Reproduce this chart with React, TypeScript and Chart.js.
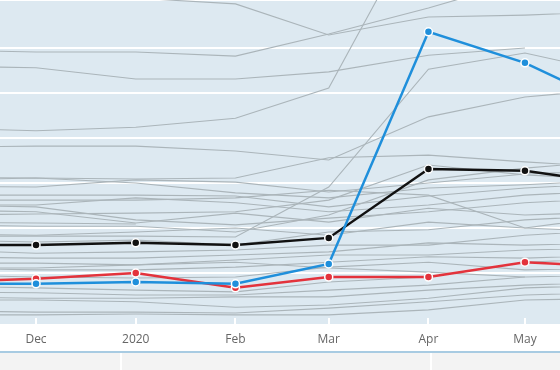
import React, { useEffect, useRef } from "react";
import { Chart, registerables } from "chart.js";

Chart.register(...registerables);

// x positions: days since 1 Dec 2019 (month starts)
const pointDays = [-30, 0, 31, 62, 91, 122, 152, 183];
const tickDays = [0, 31, 62, 91, 122, 152];
const tickLabels = ["Dec", "2020", "Feb", "Mar", "Apr", "May"];

// highlighted series
const blackSeries = [16.2, 16.2, 16.7, 16.2, 17.8, 33.1, 32.7, 29.6];
const redSeries = [8.0, 8.7, 10.0, 6.7, 9.1, 9.1, 12.4, 11.3];
const blueSeries = [7.6, 7.6, 8.0, 7.6, 12.0, 63.6, 56.7, 46.2];

// background (grey) series
const g1 = [72.4, 71.8, 71.1, 69.8, 62.9, 66.9, 67.3, 68.2];
const g2 = [59.6, 59.1, 59.1, 58.2, 63.1, 68.9, 75.1, 79.6];
const g3 = [56.0, 55.6, 53.1, 53.1, 54.7, 58.4, 60.0, null];
const g4 = [42.2, 41.6, 42.4, 44.4, 51.1, 91.8, 104, 104];
const g5 = [38.0, 38.2, 38.2, 37.1, 35.1, 44.7, 49.1, 51.1];
const g6 = [18.2, 18.2, 18.2, 18.0, 29.1, 55.3, 58.9, 54.0];
const g7 = [31.3, 31.1, 30.9, 31.1, 35.6, 36.2, 34.7, 33.3];
const l1 = [29.3, 29.1, 30.7, 30.2, 28.0, 30.0, 32.0, 32.9];
const l2 = [30.7, 31.1, 30.0, 27.8, 26.7, 28.9, 29.6, 30.7];
const l3 = [27.3, 27.3, 27.3, 27.1, 24.7, 27.1, 28.9, 30.0];
const l4 = [25.1, 25.1, 26.7, 25.6, 23.6, 25.1, 27.3, 28.4];
const l5 = [25.1, 24.7, 21.8, 20.7, 22.2, 23.6, 25.6, 26.7];
const l6 = [24.0, 23.6, 21.1, 23.3, 21.3, 24.4, 22.9, 23.6];
const l7 = [21.3, 21.1, 20.9, null, null, null, null, null];
const l8 = [18.7, 18.4, 19.1, 20.0, 18.4, 21.3, 20.0, 19.1];
const l9 = [17.3, 16.9, 17.3, 16.2, 19.1, 19.6, 21.8, 22.9];
const l10 = [15.1, 14.4, 14.7, 15.1, 16.2, 16.2, 18.4, 19.6];
const l11 = [13.6, 13.3, 13.3, 14.0, 14.7, 16.7, 16.2, 16.7];
const l12 = [12.2, 12.2, 11.8, 12.9, 14.0, 14.0, 15.1, 15.6];
const l13 = [11.1, 10.7, 10.7, 11.3, 12.4, 13.6, 13.3, 14.0];
const l14 = [9.6, 9.1, 8.9, 9.1, 11.3, 12.4, 10.7, 11.1];
const l15 = [7.1, 6.7, 6.2, 5.8, 8.0, 9.1, 12.4, 13.3];
const l16 = [5.8, 5.6, 5.1, 5.1, 6.2, 7.3, 9.1, 9.6];
const l17 = [4.7, 4.4, 4.4, 4.7, 4.7, 6.2, 7.3, 8.0];
const l18 = [4.0, 4.0, 3.6, 2.4, 2.9, 4.4, 6.7, 7.3];
const l19 = [1.6, 1.3, 1.3, 1.1, 2.2, 3.6, 5.1, 5.8];
const l20 = [0.7, 0.7, 0.9, 0.7, 0.7, 1.8, 4.0, 4.4];
const l21 = [11.1, 11.1, 11.8, 12.4, 11.1, 10.2, 9.1, null];
const l22 = [22.9, 23.1, 23.3, 23.6, 26.2, 34.0, 31.8, 30.7];
const l23 = [26.2, 26.2, 26.2, 26.7, 28.4, 27.3, 20.0, 22.9];
const l24 = [20.7, 20.4, 20.4, 19.1, 22.9, 30.7, 33.3, 35.1];

const greySeries = [
  g1, g2, g3, g4, g5, g6, g7,
  l1, l2, l3, l4, l5, l6, l7, l8, l9, l10, l11, l12,
  l13, l14, l15, l16, l17, l18, l19, l20, l21, l22, l23, l24,
];

const BG = "#dde9f1";
const GREY = "#abb5ba";
const BLACK = "#111111";
const RED = "#e3333c";
const BLUE = "#1f8fdb";

const toPoints = (vals: (number | null)[]) =>
  pointDays.map((d, i) => ({ x: d, y: vals[i] }));

const bgPlugin = {
  id: "bgPlugin",
  beforeDraw(chart: any) {
    const { ctx, chartArea } = chart;
    ctx.save();
    ctx.fillStyle = "#ffffff";
    ctx.fillRect(0, 0, chart.width, chart.height);
    ctx.fillStyle = BG;
    ctx.fillRect(0, 0, chart.width, chartArea.bottom + 6);
    ctx.restore();
  },
};

export default function App() {
  const ref = useRef<HTMLCanvasElement | null>(null);

  useEffect(() => {
    document.body.style.margin = "0";
    const canvas = ref.current;
    if (!canvas) return;

    const highlight = (vals: number[], color: string) => ({
      data: toPoints(vals),
      borderColor: color,
      backgroundColor: color,
      borderWidth: 2.5,
      pointRadius: 4,
      pointBorderColor: "#ffffff",
      pointBorderWidth: 1.5,
      pointBackgroundColor: color,
      tension: 0,
    });

    const datasets: any[] = [
      { ...highlight(blueSeries, BLUE), order: 1 },
      { ...highlight(redSeries, RED), order: 2 },
      { ...highlight(blackSeries, BLACK), order: 3 },
      ...greySeries.map((s) => ({
        data: toPoints(s),
        borderColor: GREY,
        borderWidth: 1.1,
        pointRadius: 0,
        tension: 0,
        spanGaps: false,
        order: 10,
      })),
    ];

    const chart = new Chart(canvas, {
      type: "line",
      data: { datasets },
      plugins: [bgPlugin],
      options: {
        animation: false,
        responsive: false,
        devicePixelRatio: 1,
        layout: { padding: 0, autoPadding: false },
        plugins: {
          legend: { display: false },
          tooltip: { enabled: false },
        },
        scales: {
          x: {
            type: "linear",
            min: -11.2,
            max: 162.9,
            border: { display: false },
            grid: {
              drawOnChartArea: false,
              drawTicks: true,
              tickLength: 6,
              color: "#ffffff",
              lineWidth: 2,
            },
            afterBuildTicks: (scale: any) => {
              scale.ticks = tickDays.map((v) => ({ value: v }));
            },
            afterFit: (scale: any) => {
              scale.height = 34;
            },
            ticks: {
              autoSkip: false,
              maxRotation: 0,
              padding: 8,
              color: "#666666",
              font: { family: "'Open Sans', sans-serif", size: 12 },
              callback: (value: any) => {
                const i = tickDays.indexOf(Number(value));
                return i >= 0 ? tickLabels[i] : "";
              },
            },
          },
          y: {
            type: "linear",
            min: 0,
            max: 70.67,
            border: { display: false },
            grid: {
              drawTicks: false,
              color: (c: any) =>
                c.tick && c.tick.value === 0 ? "rgba(0,0,0,0)" : "#ffffff",
              lineWidth: 2,
            },
            ticks: { display: false, stepSize: 10 },
          },
        },
      },
    });

    return () => chart.destroy();
  }, []);

  return (
    <div
      style={{
        position: "fixed",
        left: 0,
        top: 0,
        width: 560,
        height: 370,
        background: "#ffffff",
        overflow: "hidden",
      }}
    >
      <canvas ref={ref} width={560} height={352} style={{ display: "block" }} />
      <div
        style={{
          position: "absolute",
          left: 0,
          top: 351,
          width: 560,
          height: 19,
          borderTop: "2px solid #a8cbe2",
          background: "#f3f3f3",
          boxSizing: "border-box",
        }}
      >
        <div style={{ position: "absolute", left: 120, top: 0, width: 2, height: 19, background: "#ffffff" }} />
        <div style={{ position: "absolute", left: 430, top: 0, width: 2, height: 19, background: "#ffffff" }} />
      </div>
    </div>
  );
}
